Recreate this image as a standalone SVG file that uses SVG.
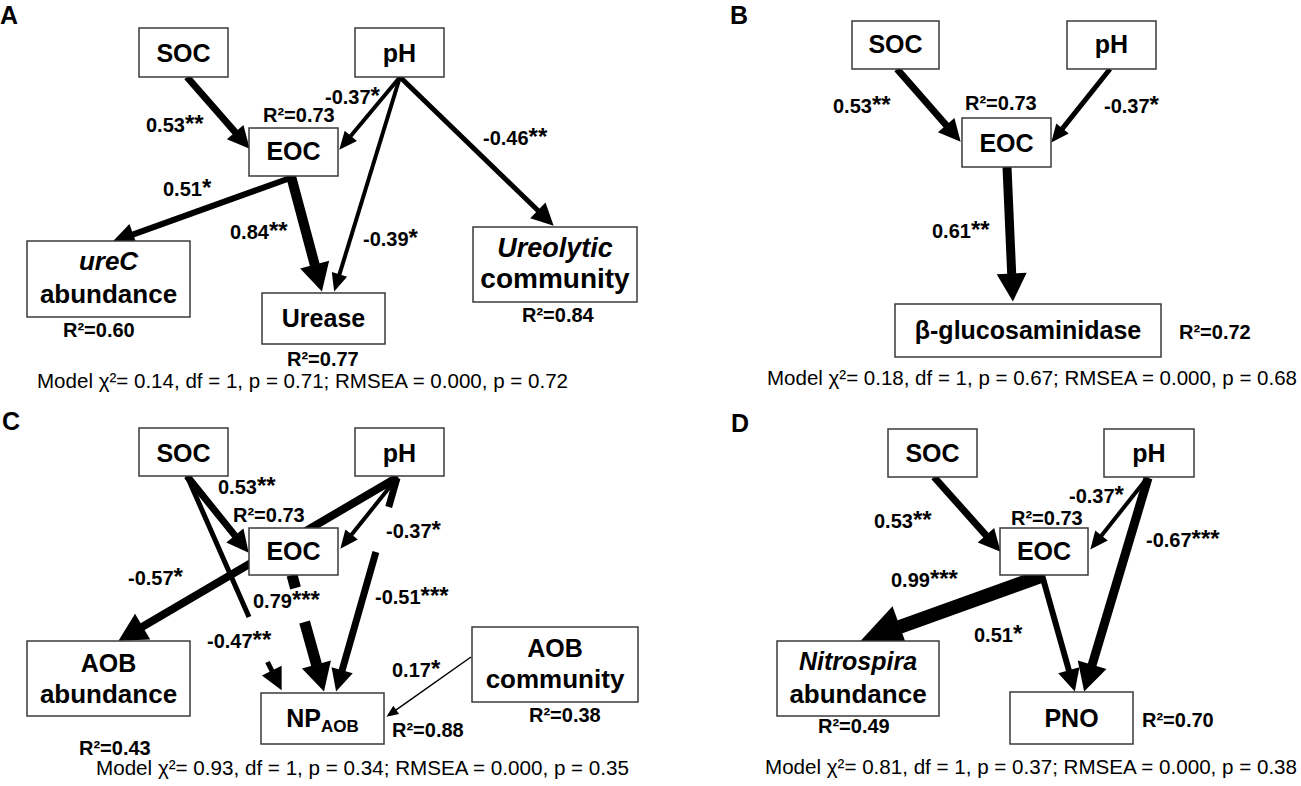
<svg xmlns="http://www.w3.org/2000/svg" width="1301" height="786" viewBox="0 0 1301 786">
<style>
.box{fill:#fff;stroke:#3a3a3a;stroke-width:1.5}
.n{font-family:"Liberation Sans",Arial,sans-serif;font-weight:bold;font-size:25px;text-anchor:middle;fill:#000}
.it{font-style:italic}
.e{font-family:"Liberation Sans",Arial,sans-serif;font-weight:bold;font-size:20px;fill:#000}
.s{font-size:24px}
.m{font-family:"Liberation Sans",Arial,sans-serif;font-size:20px;fill:#000}
.p{font-family:"Liberation Sans",Arial,sans-serif;font-weight:bold;font-size:25px;fill:#000}
.c{stroke:#000;fill:none}
</style>
<defs>
<marker id="hxs" markerUnits="userSpaceOnUse" markerWidth="12" markerHeight="10" refX="0.5" refY="5" orient="auto" overflow="visible"><path d="M0,0 L12,5 L0,10 Z" fill="#000"/></marker>
<marker id="hs" markerUnits="userSpaceOnUse" markerWidth="18" markerHeight="16" refX="0.5" refY="8" orient="auto" overflow="visible"><path d="M0,0 L18,8 L0,16 Z" fill="#000"/></marker>
<marker id="hm" markerUnits="userSpaceOnUse" markerWidth="22" markerHeight="22" refX="0.5" refY="11" orient="auto" overflow="visible"><path d="M0,0 L22,11 L0,22 Z" fill="#000"/></marker>
<marker id="hl" markerUnits="userSpaceOnUse" markerWidth="28" markerHeight="30" refX="0.5" refY="15" orient="auto" overflow="visible"><path d="M0,0 L28,15 L0,30 Z" fill="#000"/></marker>
<marker id="hxl" markerUnits="userSpaceOnUse" markerWidth="42" markerHeight="44" refX="0.5" refY="22" orient="auto" overflow="visible"><path d="M0,0 L42,22 L0,44 Z" fill="#000"/></marker>
</defs>
<rect width="1301" height="786" fill="#fff"/>

<g id="connectors">
<!-- Panel A -->
<path class="c" stroke-width="7" marker-end="url(#hm)" d="M187,77 L235.5,132.5"/>
<path class="c" stroke-width="4" marker-end="url(#hs)" d="M400,77 L350.5,136.2"/>
<path class="c" stroke-width="4" marker-end="url(#hs)" d="M400,77 L339.3,274.8"/>
<path class="c" stroke-width="5" marker-end="url(#hm)" d="M400,77 L538.2,210.7"/>
<path class="c" stroke-width="6" marker-end="url(#hm)" d="M293,177 L132.7,234.6"/>
<path class="c" stroke-width="10" marker-end="url(#hl)" d="M291,176 L314.8,265"/>
<!-- Panel B -->
<path class="c" stroke-width="7" marker-end="url(#hm)" d="M897,69 L946.5,125.5"/>
<path class="c" stroke-width="5" marker-end="url(#hs)" d="M1110,69 L1062.2,128.9"/>
<path class="c" stroke-width="9" marker-end="url(#hl)" d="M1007,167 L1011.7,274"/>
<!-- Panel C -->
<path class="c" stroke-width="8" marker-end="url(#hl)" d="M398,477 L142.2,626.9"/>
<path class="c" stroke-width="7" marker-end="url(#hm)" d="M187,476 L235.2,535.9"/>
<path class="c" stroke-width="5" marker-end="url(#hm)" d="M187,476 L249,617 M267.5,662 L272,671"/>
<path class="c" stroke-width="4" marker-end="url(#hs)" d="M397,478 L351.3,535"/>
<path class="c" stroke-width="11" marker-end="url(#hl)" d="M292,575 L295.5,588 M304.6,622 L316.6,665"/>
<path class="c" stroke-width="7" marker-end="url(#hm)" d="M397,478 L388.7,507 M375.9,552 L342,670.8"/>
<path class="c" stroke-width="1.5" marker-end="url(#hxs)" d="M471,657 L395.8,710.1"/>
<!-- Panel D -->
<path class="c" stroke-width="7" marker-end="url(#hm)" d="M934,477 L986.3,535.6"/>
<path class="c" stroke-width="4" marker-end="url(#hs)" d="M1148,477 L1101.2,535.9"/>
<path class="c" stroke-width="9" marker-end="url(#hl)" d="M1148,478 L1092,665.2"/>
<path class="c" stroke-width="6" marker-end="url(#hm)" d="M1042,575 L1069,670.8"/>
<path class="c" stroke-width="14" marker-end="url(#hxl)" d="M1044,575 L899.5,627"/>
</g>

<!-- Panel A -->
<g id="A-label"><text class="p" x="0" y="24">A</text></g>
<g id="A-SOC"><rect class="box" x="139" y="28" width="89" height="49"/><text class="n" x="183.5" y="62">SOC</text></g>
<g id="A-pH"><rect class="box" x="355" y="28" width="89" height="49"/><text class="n" x="399.5" y="62">pH</text></g>
<g id="A-EOC"><rect class="box" x="249" y="128" width="89" height="48"/><text class="n" x="293.5" y="160">EOC</text></g>
<g id="A-ureC"><rect class="box" x="27" y="241" width="163" height="76"/><text class="n it" x="108.5" y="270" style="font-size:26px">ureC</text><text class="n" x="108.5" y="303" style="font-size:26px">abundance</text></g>
<g id="A-Urease"><rect class="box" x="262" y="293" width="123" height="51"/><text class="n" x="323.5" y="327">Urease</text></g>
<g id="A-Ureolytic"><rect class="box" x="473" y="227" width="164" height="75"/><text class="n it" x="555" y="257" style="font-size:27px">Ureolytic</text><text class="n" x="555" y="288" style="font-size:28px">community</text></g>
<g id="A-labels">
<text class="e" x="146" y="132">0.53<tspan class="s">**</tspan></text>
<text class="e" x="325" y="104">-0.37<tspan class="s">*</tspan></text>
<text class="e" x="263" y="122">R²=0.73</text>
<text class="e" x="483" y="145">-0.46<tspan class="s">**</tspan></text>
<text class="e" x="163" y="196">0.51<tspan class="s">*</tspan></text>
<text class="e" x="230" y="239">0.84<tspan class="s">**</tspan></text>
<text class="e" x="363" y="246">-0.39<tspan class="s">*</tspan></text>
<text class="e" x="63" y="337">R²=0.60</text>
<text class="e" x="287" y="366">R²=0.77</text>
<text class="e" x="522" y="322">R²=0.84</text>
<text class="m" x="37" y="388" textLength="531" lengthAdjust="spacingAndGlyphs">Model χ²= 0.14, df = 1, p = 0.71; RMSEA = 0.000, p = 0.72</text>
</g>

<!-- Panel B -->
<g id="B-label"><text class="p" x="730" y="24">B</text></g>
<g id="B-SOC"><rect class="box" x="852" y="21" width="87" height="48"/><text class="n" x="895.5" y="53">SOC</text></g>
<g id="B-pH"><rect class="box" x="1067" y="21" width="89" height="48"/><text class="n" x="1111.5" y="53">pH</text></g>
<g id="B-EOC"><rect class="box" x="962" y="118" width="89" height="49"/><text class="n" x="1006.5" y="152">EOC</text></g>
<g id="B-glucosaminidase"><rect class="box" x="895" y="304" width="266" height="53"/><text class="n" x="1028" y="339">β-glucosaminidase</text></g>
<g id="B-labels">
<text class="e" x="833" y="113">0.53<tspan class="s">**</tspan></text>
<text class="e" x="1104" y="113">-0.37<tspan class="s">*</tspan></text>
<text class="e" x="965" y="110">R²=0.73</text>
<text class="e" x="932" y="238">0.61<tspan class="s">**</tspan></text>
<text class="e" x="1179" y="339">R²=0.72</text>
<text class="m" x="767" y="385" textLength="530" lengthAdjust="spacingAndGlyphs">Model χ²= 0.18, df = 1, p = 0.67; RMSEA = 0.000, p = 0.68</text>
</g>

<!-- Panel C -->
<g id="C-label"><text class="p" x="2" y="430">C</text></g>
<g id="C-SOC"><rect class="box" x="139" y="428" width="89" height="48"/><text class="n" x="183.5" y="462">SOC</text></g>
<g id="C-pH"><rect class="box" x="355" y="428" width="89" height="48"/><text class="n" x="399.5" y="462">pH</text></g>
<g id="C-EOC"><rect class="box" x="249" y="528" width="89" height="47"/><text class="n" x="293.5" y="560">EOC</text></g>
<g id="C-AOBabundance"><rect class="box" x="27" y="641" width="163" height="75"/><text class="n" x="108.5" y="672">AOB</text><text class="n" x="108.5" y="703" style="font-size:26px">abundance</text></g>
<g id="C-NPAOB"><rect class="box" x="261" y="693" width="123" height="51"/><text class="n" x="322.5" y="727">NP<tspan style="font-size:17px" dy="5">AOB</tspan></text></g>
<g id="C-AOBcommunity"><rect class="box" x="472" y="627" width="166" height="75"/><text class="n" x="555" y="657">AOB</text><text class="n" x="555" y="688" style="font-size:26px">community</text></g>
<g id="C-labels">
<text class="e" x="218" y="494">0.53<tspan class="s">**</tspan></text>
<text class="e" x="233" y="522">R²=0.73</text>
<text class="e" x="386" y="538">-0.37<tspan class="s">*</tspan></text>
<text class="e" x="128" y="585">-0.57<tspan class="s">*</tspan></text>
<text class="e" x="253" y="608">0.79<tspan class="s">***</tspan></text>
<text class="e" x="375" y="604">-0.51<tspan class="s">***</tspan></text>
<text class="e" x="207" y="648">-0.47<tspan class="s">**</tspan></text>
<text class="e" x="392" y="677">0.17<tspan class="s">*</tspan></text>
<text class="e" x="392" y="737">R²=0.88</text>
<text class="e" x="529" y="722">R²=0.38</text>
<text class="e" x="79" y="755">R²=0.43</text>
<text class="m" x="96" y="775" textLength="533" lengthAdjust="spacingAndGlyphs">Model χ²= 0.93, df = 1, p = 0.34; RMSEA = 0.000, p = 0.35</text>
</g>

<!-- Panel D -->
<g id="D-label"><text class="p" x="731" y="432">D</text></g>
<g id="D-SOC"><rect class="box" x="888" y="429" width="89" height="48"/><text class="n" x="932.5" y="462">SOC</text></g>
<g id="D-pH"><rect class="box" x="1104" y="429" width="90" height="48"/><text class="n" x="1149" y="462">pH</text></g>
<g id="D-EOC"><rect class="box" x="1000" y="528" width="88" height="47"/><text class="n" x="1044" y="560">EOC</text></g>
<g id="D-Nitrospira"><rect class="box" x="777" y="641" width="162" height="75"/><text class="n it" x="858" y="670">Nitrospira</text><text class="n" x="858" y="703" style="font-size:26px">abundance</text></g>
<g id="D-PNO"><rect class="box" x="1010" y="692" width="123" height="52"/><text class="n" x="1071.5" y="727">PNO</text></g>
<g id="D-labels">
<text class="e" x="874" y="528">0.53<tspan class="s">**</tspan></text>
<text class="e" x="1011" y="525">R²=0.73</text>
<text class="e" x="1069" y="503">-0.37<tspan class="s">*</tspan></text>
<text class="e" x="1146" y="547">-0.67<tspan class="s">***</tspan></text>
<text class="e" x="891" y="587">0.99<tspan class="s">***</tspan></text>
<text class="e" x="974" y="642">0.51<tspan class="s">*</tspan></text>
<text class="e" x="818" y="733">R²=0.49</text>
<text class="e" x="1142" y="727">R²=0.70</text>
<text class="m" x="765" y="774" textLength="532" lengthAdjust="spacingAndGlyphs">Model χ²= 0.81, df = 1, p = 0.37; RMSEA = 0.000, p = 0.38</text>
</g>
</svg>
